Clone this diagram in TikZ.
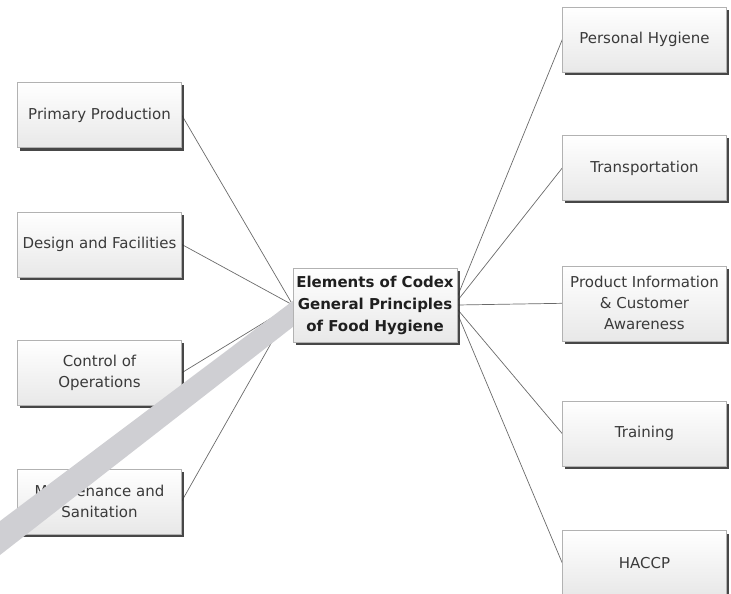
\documentclass[tikz,border=0pt]{standalone}
\usepackage{fontspec}
\setmainfont{DejaVu Sans}
\usepackage{tikz}
\usetikzlibrary{positioning,shadows,backgrounds}
\definecolor{BoxText}{HTML}{3A3A3A}
\definecolor{LinkGrey}{HTML}{6A6A6A}
\definecolor{ScanBand}{HTML}{CFCFD3}
\tikzset{
  topic/.style={rectangle,draw=black!30,top color=white,bottom color=black!9,
                minimum width=164pt,minimum height=65pt,align=center,text=BoxText,
                font=\fontsize{15}{21}\selectfont,
                drop shadow={shadow xshift=2.5pt,shadow yshift=-3pt,fill=black!80,opacity=0.9}},
  hub/.style={topic,minimum height=74pt,text=black!88,
              font=\bfseries\fontsize{15}{22}\selectfont},
  link/.style={draw=LinkGrey,line width=0.7pt},
}
\begin{document}
\begin{tikzpicture}[x=1pt,y=-1pt]
  \useasboundingbox (0,0) rectangle (731,594);
  \node[hub] (codex) at (375,305) {Elements of Codex\\General Principles\\of Food Hygiene};

  \node[topic] (prim) at (99.5,115) {Primary Production};
  \node[topic, below=64pt of prim]    (design)  {Design and Facilities};
  \node[topic, below=63pt of design]  (control) {Control of\\Operations};
  \node[topic, below=63pt of control] (maint)   {Maintenance and\\Sanitation};

  \node[topic] (pers) at (644.5,39.5) {Personal Hygiene};
  \node[topic, below=63pt of pers]  (trans) {Transportation};
  \node[topic, below=65pt of trans, minimum height=75pt] (info) {Product Information\\\& Customer\\Awareness};
  \node[topic, below=60pt of info]  (train) {Training};
  \node[topic, below=64pt of train] (haccp) {HACCP};

  \begin{scope}[on background layer]
    \draw[link] (prim.east)    -- (codex.west);
    \draw[link] (design.east)  -- (codex.west);
    \draw[link] (control.east) -- (codex.west);
    \draw[link] (maint.east)   -- (codex.west);
    \draw[link] (pers.west)  -- ([yshift=8pt]codex.east);
    \draw[link] (trans.west) -- ([yshift=4pt]codex.east);
    \draw[link] (info.west)  -- (codex.east);
    \draw[link] (train.west) -- ([yshift=-4pt]codex.east);
    \draw[link] (haccp.west) -- ([yshift=-8pt]codex.east);
  \end{scope}

  \fill[ScanBand] (0,521) -- (codex.west |- 0,301) -- (codex.west |- 0,327) -- (0,555) -- cycle;
\end{tikzpicture}
\end{document}
